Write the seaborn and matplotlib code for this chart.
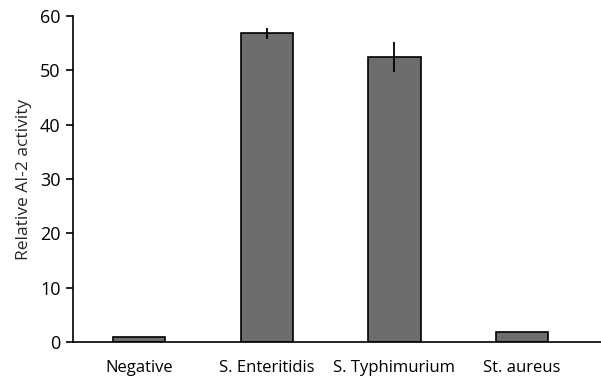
import matplotlib
matplotlib.use("Agg")
import matplotlib.pyplot as plt
import seaborn as sns
import pandas as pd

categories = ["Negative", "S. Enteritidis", "S. Typhimurium", "St. aureus"]
activity = [1.0, 56.8, 52.4, 1.8]
errors = [0.0, 0.95, 2.75, 0.0]
y_ticks = [0, 10, 20, 30, 40, 50, 60]

sns.set_theme(style="white")
plt.rcParams["font.family"] = ["Open Sans", "DejaVu Sans"]

df = pd.DataFrame({"sample": categories, "activity": activity})

fig = plt.figure(figsize=(6.01, 3.82), dpi=100)
ax = fig.add_axes([0.1215, 0.1047, 0.8785, 0.8534])

sns.barplot(data=df, x="sample", y="activity", color="#6d6d6d",
            saturation=1, width=0.41, edgecolor="black", linewidth=1.2,
            errorbar=None, ax=ax)

xs = ax.get_xticks()
err_x = [x for x, e in zip(xs, errors) if e > 0]
err_y = [v for v, e in zip(activity, errors) if e > 0]
err_e = [e for e in errors if e > 0]
ax.errorbar(err_x, err_y, yerr=err_e, fmt="none", ecolor="black",
            elinewidth=1.3, capsize=0)

ax.set_ylim(0, 60)
ax.set_xlim(-0.52, 3.62)
ax.set_yticks(y_ticks)
ax.set_ylabel("Relative AI-2 activity", fontsize=12.5, labelpad=6)
ax.set_xlabel("")

sns.despine(ax=ax)
for side in ("left", "bottom"):
    ax.spines[side].set_color("black")
    ax.spines[side].set_linewidth(1.2)

ax.tick_params(axis="y", which="major", left=True, length=5, width=1.2,
               color="black", labelsize=13, pad=4)
ax.tick_params(axis="x", bottom=False, labelsize=12, pad=7)
for lbl in ax.get_xticklabels() + ax.get_yticklabels():
    lbl.set_color("black")

fig.savefig("out.png", dpi=100)
